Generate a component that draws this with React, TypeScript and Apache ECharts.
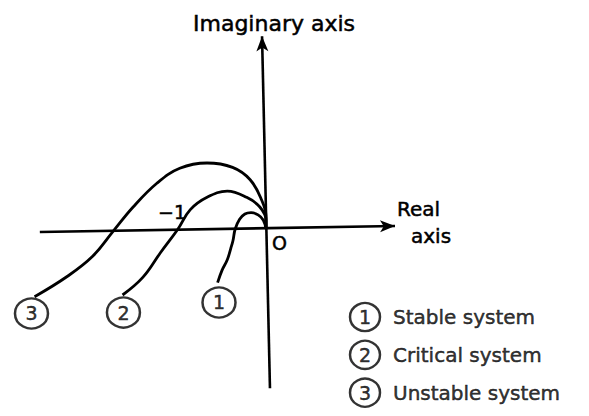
import React, { useEffect, useRef } from "react";
import * as echarts from "echarts";

// Nyquist-type loci (Re, Im) (unit: distance 0 to -1)
const curveStable: number[][] = [
  [-0.55, -0.61], [-0.5, -0.47], [-0.44, -0.35], [-0.4, -0.22], [-0.375, -0.13],
  [-0.35, 0], [-0.3, 0.11], [-0.24, 0.17], [-0.17, 0.185], [-0.09, 0.16],
  [-0.03, 0.1], [0, 0],
];
const curveCritical: number[][] = [
  [-1.63, -0.75], [-1.4, -0.55], [-1.2, -0.27], [-1, 0], [-0.86, 0.22],
  [-0.67, 0.36], [-0.44, 0.43], [-0.22, 0.36], [-0.07, 0.25], [0, 0.1], [0, 0],
];
const curveUnstable: number[][] = [
  [-2.63, -0.77], [-2.26, -0.54], [-1.97, -0.31], [-1.74, -0.03], [-1.51, 0.25],
  [-1.24, 0.52], [-0.98, 0.69], [-0.67, 0.75], [-0.38, 0.7], [-0.18, 0.56],
  [-0.05, 0.33], [0, 0.14], [0, 0],
];

// circled numbers at the ends of the curves
const curveTags: number[][] = [
  [-0.534, -0.835],
  [-1.62, -0.95],
  [-2.665, -0.96],
];
const curveTagNames = ["1", "2", "3"];

// legend
const legendNames = ["1", "2", "3"];
const legendLabels = ["Stable system", "Critical system", "Unstable system"];
const legendPos: number[][] = [
  [1.125, -1.0],
  [1.125, -1.43],
  [1.125, -1.86],
];

// axes (as drawn in the scan, very slightly tilted)
const realAxis: number[][] = [[-2.57, -0.034], [1.466, 0.034]];
const imagAxis: number[][] = [[0.045, -1.81], [-0.045, 2.19]];

const FONT = "DejaVu Sans";

export default function App() {
  const ref = useRef<HTMLDivElement>(null);
  useEffect(() => {
    if (!ref.current) return;
    document.body.style.margin = "0";
    const chart = echarts.init(ref.current, null, { renderer: "svg" });
    const lineStyle = { color: "#000", width: 2.8 };
    const curveSeries = (data: number[][]) => ({
      type: "line",
      data,
      smooth: 0.4,
      showSymbol: false,
      symbol: "none",
      lineStyle,
      silent: true,
    });
    const bold = { textBorderColor: "#000", textBorderWidth: 0.5 };
    chart.setOption({
      animation: false,
      backgroundColor: "#fff",
      grid: { left: 0, right: 0, top: 0, bottom: 0 },
      xAxis: {
        type: "value",
        min: -266 / 88,
        max: (589 - 266) / 88,
        show: false,
      },
      yAxis: {
        type: "value",
        min: -(416 - 229) / 88,
        max: 229 / 88,
        show: false,
      },
      series: [
        {
          type: "line",
          data: [],
          markLine: {
            silent: true,
            symbol: ["none", "arrow"],
            symbolSize: [9, 15],
            label: { show: false },
            lineStyle: { color: "#000", width: 2.6, type: "solid" },
            data: [
              [{ coord: realAxis[0] }, { coord: realAxis[1] }],
              [{ coord: imagAxis[0] }, { coord: imagAxis[1] }],
            ],
          },
        },
        curveSeries(curveStable),
        curveSeries(curveCritical),
        curveSeries(curveUnstable),
        {
          type: "scatter",
          data: curveTags.map((p, i) => ({ value: p, name: curveTagNames[i] })),
          symbol: "circle",
          symbolSize: [33, 30],
          itemStyle: { color: "#fff", borderColor: "#000", borderWidth: 2.4 },
          label: {
            show: true,
            position: "inside",
            formatter: "{b}",
            color: "#000",
            fontFamily: FONT,
            fontSize: 19,
            ...bold,
          },
          silent: true,
          z: 5,
        },
        {
          type: "scatter",
          data: legendPos.map((p, i) => ({ value: p, name: legendNames[i] })),
          symbol: "circle",
          symbolSize: [30, 28],
          itemStyle: { color: "#fff", borderColor: "#000", borderWidth: 2.4 },
          label: {
            show: true,
            position: "inside",
            formatter: "{b}",
            color: "#000",
            fontFamily: FONT,
            fontSize: 19,
            ...bold,
          },
          silent: true,
        },
        {
          type: "scatter",
          data: legendPos.map((p, i) => ({ value: p, name: legendLabels[i] })),
          symbolSize: 0,
          label: {
            show: true,
            position: "right",
            distance: 28,
            formatter: "{b}",
            color: "#000",
            fontFamily: FONT,
            fontSize: 20,
            ...bold,
          },
          silent: true,
        },
      ],
      graphic: [
        {
          type: "text",
          x: 193,
          y: 23,
          style: {
            text: "Imaginary axis",
            fill: "#000",
            font: `22px ${FONT}`,
            textVerticalAlign: "middle",
            stroke: "#000",
            lineWidth: 0.5,
          },
        },
        {
          type: "text",
          x: 397,
          y: 209,
          style: { text: "Real", fill: "#000", font: `20px ${FONT}`, textVerticalAlign: "middle", stroke: "#000", lineWidth: 0.5 },
        },
        {
          type: "text",
          x: 411,
          y: 236,
          style: { text: "axis", fill: "#000", font: `20px ${FONT}`, textVerticalAlign: "middle", stroke: "#000", lineWidth: 0.5 },
        },
        {
          type: "text",
          x: 158,
          y: 212,
          style: { text: "−1", fill: "#000", font: `19px ${FONT}`, textVerticalAlign: "middle", stroke: "#000", lineWidth: 0.5 },
        },
        {
          type: "text",
          x: 272,
          y: 243,
          style: { text: "O", fill: "#000", font: `19px ${FONT}`, textVerticalAlign: "middle", stroke: "#000", lineWidth: 0.5 },
        },
      ],
    });
    return () => chart.dispose();
  }, []);
  return <div ref={ref} style={{ width: 589, height: 416 }} />;
}
